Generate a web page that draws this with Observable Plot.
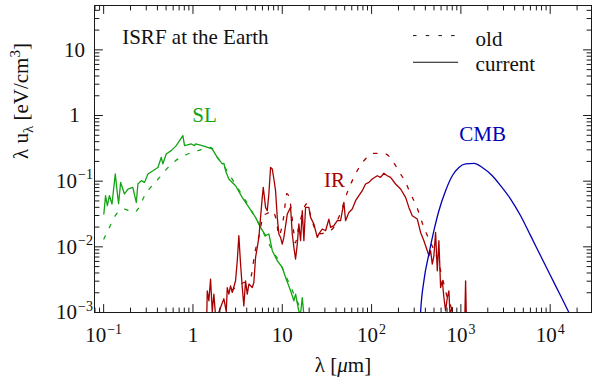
<!DOCTYPE html>
<html>
<head>
<meta charset="utf-8">
<script src="https://cdn.jsdelivr.net/npm/d3@7"></script>
<script src="https://cdn.jsdelivr.net/npm/@observablehq/plot@0.6"></script>
<style>
  body { margin: 0; background: #fff; }
</style>
</head>
<body>
<div id="chart"></div>
<script>
// Interstellar radiation field at the Earth: wavelength (µm) vs λ·u_λ (eV/cm³)

// Stellar light (SL), current model
const slCurrentLambda = [0.1005, 0.105, 0.110, 0.116, 0.124, 0.135, 0.142, 0.147, 0.155, 0.171, 0.187, 0.212, 0.232, 0.242, 0.264, 0.287, 0.313, 0.356, 0.405, 0.442, 0.460, 0.502, 0.571, 0.650, 0.771, 0.805, 0.957, 1.04, 1.07, 1.27, 1.64, 1.87, 2.13, 2.22, 2.32, 2.52, 3.00, 3.56, 4.23, 5.02, 5.71, 6.50, 7.08, 7.73, 8.79, 10.0, 10.9, 12.4, 13.5, 14.1, 15.3, 16.0, 16.75, 17.46, 18.2];
const slCurrentU = [0.0316, 0.0601, 0.0423, 0.0601, 0.0449, 0.129, 0.0675, 0.0454, 0.0959, 0.0638, 0.0760, 0.0804, 0.0475, 0.0906, 0.102, 0.0959, 0.129, 0.1445, 0.162, 0.231, 0.183, 0.260, 0.292, 0.348, 0.494, 0.348, 0.369, 0.348, 0.369, 0.348, 0.310, 0.231, 0.183, 0.187, 0.1445, 0.108, 0.0853, 0.0566, 0.0399, 0.0281, 0.0198, 0.0148, 0.0157, 0.00873, 0.00614, 0.00485, 0.00342, 0.00214, 0.00151, 0.00191, 0.00106, 0.00095, 0.00169, 0.0009, 0.0007];

// Stellar light (SL), old model
const slOldLambda = [0.1005, 0.116, 0.135, 0.168, 0.218, 0.252, 0.287, 0.341, 0.423, 0.515, 0.638, 0.841, 1.135, 1.57, 1.87, 2.32, 3.0, 4.2, 5.7, 7.4, 9.6, 12.4, 16.0];
const slOldU = [0.01315, 0.0198, 0.0298, 0.0377, 0.0334, 0.0409, 0.0601, 0.0824, 0.114, 0.157, 0.205, 0.253, 0.292, 0.328, 0.231, 0.155, 0.0885, 0.0423, 0.0202, 0.0100, 0.00533, 0.00247, 0.00114];

// Dust infrared emission (IR), current model
const irCurrentLambda = [1.384, 1.446, 1.507, 1.574, 1.645, 1.714, 1.791, 1.935, 2.038, 2.218, 2.360, 2.422, 2.523, 2.637, 2.755, 3.000, 3.134, 3.266, 3.412, 3.566, 3.715, 3.882, 4.057, 4.227, 4.614, 4.808, 5.023, 5.248, 5.470, 5.715, 5.970, 6.127, 6.501, 6.792, 7.078, 7.396, 7.727, 8.053, 8.413, 8.790, 9.161, 9.572, 10.0, 10.42, 11.38, 12.39, 12.94, 13.49, 14.09, 14.72, 15.35, 16.03, 16.75, 17.46, 18.24, 19.86, 20.75, 22.59, 24.66, 25.70, 28.05, 30.54, 33.25, 34.74, 37.84, 41.30, 44.97, 48.96, 51.15, 55.69, 60.79, 66.20, 72.09, 78.69, 85.66, 93.28, 101.8, 115.8, 126.1, 137.3, 149.9, 163.2, 185.7, 211.3, 240.4, 261.6, 285.6, 324.9, 353.8, 385.3, 420.6, 438.4, 457.9, 478.3, 498.6, 520.9, 544.2, 567.2, 592.6, 619.1, 645.3, 674.2, 704.4, 734.0, 753.2, 801.3, 828.6, 1072, 1129, 1189];
const irCurrentU = [0.0001, 0.00214, 0.00151, 0.00323, 0.00103, 0.00191, 0.00089, 0.00099, 0.00119, 0.00162, 0.00103, 0.00240, 0.00191, 0.00255, 0.00202, 0.00304, 0.00614, 0.0148, 0.00547, 0.00240, 0.00126, 0.00304, 0.00191, 0.00271, 0.00240, 0.00287, 0.00689, 0.00979, 0.0139, 0.0281, 0.0566, 0.0804, 0.0399, 0.0355, 0.0638, 0.162, 0.153, 0.108, 0.0716, 0.0281, 0.0157, 0.0139, 0.0110, 0.0139, 0.0316, 0.0399, 0.0157, 0.00979, 0.00652, 0.0110, 0.0223, 0.0124, 0.0355, 0.0124, 0.0399, 0.0399, 0.0281, 0.0223, 0.0139, 0.0157, 0.0187, 0.0176, 0.0265, 0.0198, 0.0210, 0.0250, 0.0250, 0.0475, 0.0250, 0.0334, 0.0377, 0.0504, 0.0601, 0.0716, 0.0906, 0.0959, 0.108, 0.121, 0.114, 0.132, 0.121, 0.114, 0.0906, 0.0760, 0.0566, 0.0399, 0.0298, 0.0265, 0.0166, 0.0124, 0.00873, 0.00731, 0.00873, 0.00547, 0.00731, 0.0166, 0.00432, 0.0124, 0.00240, 0.00304, 0.00169, 0.00106, 0.00169, 0.00214, 0.00099, 0.00119, 0.0001, 0.0001, 0.00304, 0.0001];

// Dust infrared emission (IR), old model
const irOldLambda = [2.727, 3.240, 3.687, 4.383, 4.984, 5.428, 6.174, 7.024, 7.647, 8.700, 9.091, 10.34, 11.26, 12.29, 13.38, 13.98, 15.22, 15.91, 18.86, 21.46, 25.50, 30.30, 36.59, 44.97, 53.45, 60.79, 69.17, 82.00, 106.1, 143.5, 177.7, 205.9, 240.4, 273.4, 311.0, 385.3, 438.4, 520.9, 592.6, 645.3, 704.4, 767, 828.6];
const irOldU = [0.00214, 0.00264, 0.00284, 0.00327, 0.00873, 0.0138, 0.0298, 0.0331, 0.0355, 0.0233, 0.0148, 0.0278, 0.0645, 0.0470, 0.0176, 0.0115, 0.0196, 0.0250, 0.0454, 0.0250, 0.0158, 0.0164, 0.0189, 0.0331, 0.0675, 0.102, 0.1445, 0.205, 0.265, 0.260, 0.189, 0.136, 0.0959, 0.0638, 0.0449, 0.0198, 0.0131, 0.00777, 0.00432, 0.00271, 0.00169, 0.00126, 0.00099];

// Cosmic microwave background (CMB)
const cmbLambda = [340, 353.8, 385.3, 438.4, 498.6, 567.2, 674.2, 801.3, 950, 1129, 1398, 1737, 2247, 2784, 3603, 4662, 6033, 7808, 10100, 13080, 16200, 17500];
const cmbU = [0.0003, 0.001, 0.00304, 0.00777, 0.0176, 0.0355, 0.0716, 0.121, 0.162, 0.183, 0.187, 0.162, 0.121, 0.0853, 0.0535, 0.0298, 0.0148, 0.00731, 0.00362, 0.00180, 0.001, 0.0008];

// Component names and where they are written
const componentNames = ["SL", "IR", "CMB"];
const componentLabelLambda = [1.35, 38.5, 1750];
const componentLabelU = [1.0, 0.104, 0.524];

// Legend entries
const legendNames = ["old", "current"];
const legendU = [16.5, 6.47];
const legendTextU = [14.7, 6.12];

// Axis ticks
const xMajorTicks = [0.1, 1, 10, 100, 1000, 10000];
const xTickLabels = ["10^−1", "1", "10", "10^2", "10^3", "10^4"];
const yMajorTicks = [0.001, 0.01, 0.1, 1, 10];
const yTickLabels = ["10^−3", "10^−2", "10^−1", "1", "10"];

const xDomain = [0.079, 29000];
const yDomain = [0.001, 47.4];

const SERIF = "Liberation Serif";
const GREEN = "#12a412";
const RED = "#a60000";
const BLUE = "#0000b4";
const DASH = "3.5,9.2";

const toRows = (xs, ys) => xs.map((x, i) => ({lambda: x, u: ys[i]}));
const slCurrent = toRows(slCurrentLambda, slCurrentU);
const slOld = toRows(slOldLambda, slOldU);
const irCurrent = toRows(irCurrentLambda, irCurrentU);
const irOld = toRows(irOldLambda, irOldU);
const cmb = toRows(cmbLambda, cmbU);
const componentLabels = componentNames.map((name, i) => ({name, lambda: componentLabelLambda[i], u: componentLabelU[i], color: [GREEN, RED, BLUE][i]}));

function minorTicks(domain) {
  const out = [];
  for (let e = -3; e <= 5; e++) {
    for (let m = 2; m <= 9; m++) {
      const v = m * Math.pow(10, e);
      if (v >= domain[0] && v <= domain[1]) out.push(v);
    }
  }
  return out;
}

// Ticks drawn inward from every side of the frame
const inwardTick = {draw(context, l) { context.moveTo(0, 0); context.lineTo(0, -l); }};
function frameTicks(values, channel, len) {
  const sides = channel === "x" ? [["bottom", 0], ["top", 180]] : [["left", 90], ["right", -90]];
  return sides.map(([side, rotate]) => Plot.vector(values, {
    [channel]: (d) => d, frameAnchor: side, length: len, rotate, anchor: "start",
    shape: inwardTick, stroke: "#1a1a1a", strokeWidth: 1
  }));
}

const xLabelOf = new Map(xMajorTicks.map((v, i) => [v, xTickLabels[i]]));
const yLabelOf = new Map(yMajorTicks.map((v, i) => [v, yTickLabels[i]]));

const curve = (data, color, opts = {}) => Plot.line(data, {x: "lambda", y: "u", stroke: color, strokeWidth: 1.3, clip: true, ...opts});

const X_LABEL = "λ [μm]";
const Y_LABEL = "λ u_λ [eV/cm^3]";

const chart = Plot.plot({
  width: 592,
  height: 385,
  marginLeft: 94,
  marginRight: 1,
  marginTop: 5,
  marginBottom: 73,
  style: {fontFamily: SERIF, fontSize: "21px", background: "#fff", color: "#111"},
  x: {type: "log", domain: xDomain},
  y: {type: "log", domain: yDomain},
  marks: [
    curve(slOld, GREEN, {strokeDasharray: DASH, curve: "monotone-x"}),
    curve(irOld, RED, {strokeDasharray: DASH, curve: "monotone-x"}),
    curve(slCurrent, GREEN),
    curve(irCurrent, RED),
    curve(cmb, BLUE, {curve: "monotone-x"}),
    Plot.frame({stroke: "#1a1a1a", strokeWidth: 1}),
    ...frameTicks(xMajorTicks, "x", 8),
    ...frameTicks(minorTicks(xDomain), "x", 4.5),
    ...frameTicks(yMajorTicks, "y", 8),
    ...frameTicks(minorTicks(yDomain), "y", 4.5),
    Plot.axisX({ticks: xMajorTicks, tickSize: 0, tickPadding: 15, tickFormat: (d) => xLabelOf.get(d), label: null}),
    Plot.axisY({ticks: yMajorTicks, tickSize: 0, tickPadding: 20, textAnchor: "middle", tickFormat: (d) => yLabelOf.get(d), label: null}),
    Plot.text([X_LABEL], {text: (d) => d, frameAnchor: "bottom", dy: 59, fill: "#111"}),
    Plot.text([Y_LABEL], {text: (d) => d, frameAnchor: "left", dx: -73, rotate: -90, fill: "#111"}),
    Plot.text(["ISRF at the Earth"], {text: (d) => d, frameAnchor: "top-left", dx: 27.7, dy: 23.3, textAnchor: "start", fill: "#111"}),
    Plot.text(componentLabels, {x: "lambda", y: "u", text: "name", fill: "color"}),
    // legend keys
    Plot.ruleY([legendU[0]], {y: (d) => d, x1: 295, x2: 895, stroke: "#111", strokeWidth: 1, strokeDasharray: DASH}),
    Plot.ruleY([legendU[1]], {y: (d) => d, x1: 295, x2: 942, stroke: "#111", strokeWidth: 1.1}),
    Plot.text(legendNames, {x: 1461, y: (d, i) => legendTextU[i], text: (d) => d, textAnchor: "start", fill: "#111"})
  ]
});

// Superscripts and subscripts in the text
const NS = "http://www.w3.org/2000/svg";
function richText(el, parts) {
  el.textContent = "";
  for (const p of parts) {
    const t = document.createElementNS(NS, "tspan");
    t.textContent = p.text;
    for (const [k, v] of Object.entries(p.attrs || {})) t.setAttribute(k, v);
    el.appendChild(t);
  }
}
chart.querySelectorAll("text").forEach((el) => {
  const s = el.textContent;
  if (s === Y_LABEL) {
    richText(el, [
      {text: "λ u"},
      {text: "λ", attrs: {"font-size": "15", dy: "5"}},
      {text: " [eV/cm", attrs: {dy: "-5"}},
      {text: "3", attrs: {"font-size": "15", dy: "-8"}},
      {text: "]", attrs: {dy: "8"}}
    ]);
  } else if (s === X_LABEL) {
    richText(el, [{text: "λ ["}, {text: "μ", attrs: {"font-style": "italic"}}, {text: "m]"}]);
  } else if (/^10\^/.test(s)) {
    const [base, exp] = s.split("^");
    richText(el, [{text: base}, {text: exp, attrs: {"font-size": "14", dy: "-8.5", dx: "1"}}]);
  }
});

document.getElementById("chart").appendChild(chart);
</script>
</body>
</html>
